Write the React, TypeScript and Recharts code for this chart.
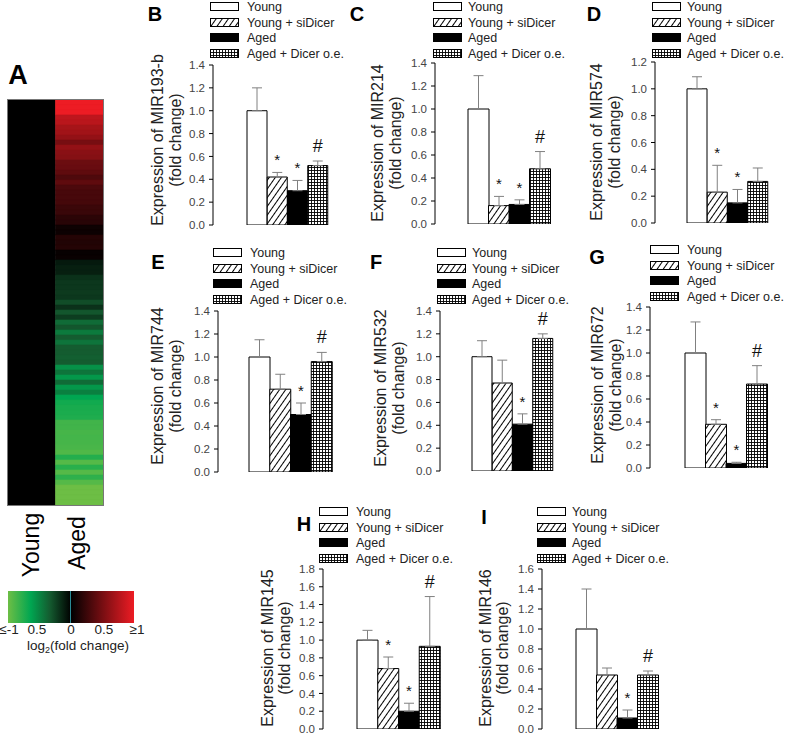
import React from 'react';
import { BarChart, Bar, XAxis, YAxis, ErrorBar, Cell, LabelList } from 'recharts';

const SANS = '"Liberation Sans", Arial, Helvetica, sans-serif';

const groups = ['Young', 'Young + siDicer', 'Aged', 'Aged + Dicer o.e.'];
const groupFills = ['#ffffff', 'url(#hatch)', '#000000', 'url(#grid)'];

// panel A: log2 fold change, aged vs young, top to bottom
const agedLog2FC = [
  1, 1, 1, 0.8, 0.78, 0.7, 0.68, 0.62, 0.5, 0.62, 0.58, 0.56, 0.45, 0.44,
  0.4, 0.33, 0.4, 0.32, 0.3, 0.3, 0.29, 0.25, 0.24, 0.18, 0.17, 0.06, 0.05,
  0.15, 0.14, 0.15, 0.03, 0.04, -0.08, -0.1, -0.1, -0.16, -0.18, -0.18, -0.19,
  -0.18, -0.25, -0.16, -0.28, -0.2, -0.35, -0.28, -0.4, -0.3, -0.38, -0.3,
  -0.3, -0.31, -0.3, -0.48, -0.38, -0.5, -0.35, -0.5, -0.42, -0.55, -0.62,
  -0.65, -0.66, -0.68, -0.82, -0.82, -0.84, -0.83, -0.84, -0.85, -0.88, -0.7,
  -0.9, -0.72, -0.9, -0.74, -0.9, -1, -1, -1, -1,
];
const colorbarTicks = ['\u2264-1', '0.5', '0', '0.5', '\u22651'];

// B - MIR193-b
const mir193bMean = [1.0, 0.42, 0.3, 0.52];
const mir193bErr = [0.2, 0.04, 0.09, 0.04];
const mir193bSig = ['', '*', '*', '#'];
// C - MIR214
const mir214Mean = [1.0, 0.16, 0.17, 0.48];
const mir214Err = [0.29, 0.08, 0.04, 0.15];
const mir214Sig = ['', '*', '*', '#'];
// D - MIR574
const mir574Mean = [1.0, 0.23, 0.15, 0.31];
const mir574Err = [0.09, 0.2, 0.1, 0.1];
const mir574Sig = ['', '*', '*', ''];
// E - MIR744
const mir744Mean = [1.0, 0.72, 0.5, 0.96];
const mir744Err = [0.15, 0.13, 0.1, 0.08];
const mir744Sig = ['', '', '*', '#'];
// F - MIR532
const mir532Mean = [1.0, 0.77, 0.41, 1.16];
const mir532Err = [0.14, 0.2, 0.09, 0.04];
const mir532Sig = ['', '', '*', '#'];
// G - MIR672
const mir672Mean = [1.0, 0.38, 0.04, 0.73];
const mir672Err = [0.27, 0.04, 0.01, 0.16];
const mir672Sig = ['', '*', '*', '#'];
// H - MIR145
const mir145Mean = [1.0, 0.68, 0.2, 0.93];
const mir145Err = [0.11, 0.13, 0.09, 0.56];
const mir145Sig = ['', '*', '*', '#'];
// I - MIR146
const mir146Mean = [1.0, 0.54, 0.11, 0.54];
const mir146Err = [0.4, 0.07, 0.08, 0.04];
const mir146Sig = ['', '', '*', '#'];

const ticks14 = [0, 0.2, 0.4, 0.6, 0.8, 1.0, 1.2, 1.4];
const ticks12 = [0, 0.2, 0.4, 0.6, 0.8, 1.0, 1.2];
const ticks16 = [0, 0.2, 0.4, 0.6, 0.8, 1.0, 1.2, 1.4, 1.6];
const ticks18 = [0, 0.2, 0.4, 0.6, 0.8, 1.0, 1.2, 1.4, 1.6, 1.8];

const panels = [
  { letter: 'B', title: 'Expression of MIR193-b', mean: mir193bMean, err: mir193bErr, sig: mir193bSig, ticks: ticks14,
    axisX: 213, axisEnd: 347, y0: 225, yTop: 65, padL: 34, padR: 19, legX: 210, legTextX: 247, legY: 7,
    lx: 155, ly: 14, ylab1: 158, ylab2: 176, ycy: 140 },
  { letter: 'C', title: 'Expression of MIR214', mean: mir214Mean, err: mir214Err, sig: mir214Sig, ticks: ticks14,
    axisX: 435, axisEnd: 580, y0: 224, yTop: 63, padL: 33, padR: 30, legX: 433, legTextX: 468, legY: 7,
    lx: 357, ly: 14, ylab1: 378, ylab2: 396, ycy: 143 },
  { letter: 'D', title: 'Expression of MIR574', mean: mir574Mean, err: mir574Err, sig: mir574Sig, ticks: ticks12,
    axisX: 655, axisEnd: 798, y0: 223, yTop: 62, padL: 32, padR: 30, legX: 652, legTextX: 687, legY: 7,
    lx: 594, ly: 14, ylab1: 597, ylab2: 615, ycy: 142 },
  { letter: 'E', title: 'Expression of MIR744', mean: mir744Mean, err: mir744Err, sig: mir744Sig, ticks: ticks14,
    axisX: 218, axisEnd: 352, y0: 472, yTop: 311, padL: 31, padR: 20, legX: 213, legTextX: 250, legY: 253,
    lx: 158, ly: 262, ylab1: 158, ylab2: 176, ycy: 386 },
  { letter: 'F', title: 'Expression of MIR532', mean: mir532Mean, err: mir532Err, sig: mir532Sig, ticks: ticks14,
    axisX: 440, axisEnd: 580, y0: 471, yTop: 311, padL: 32, padR: 27, legX: 437, legTextX: 472, legY: 253,
    lx: 376, ly: 262, ylab1: 381, ylab2: 399, ycy: 388 },
  { letter: 'G', title: 'Expression of MIR672', mean: mir672Mean, err: mir672Err, sig: mir672Sig, ticks: ticks14,
    axisX: 650, axisEnd: 798, y0: 468, yTop: 307, padL: 35, padR: 31, legX: 650, legTextX: 687, legY: 250,
    lx: 597, ly: 257, ylab1: 598, ylab2: 616, ycy: 385 },
  { letter: 'H', title: 'Expression of MIR145', mean: mir145Mean, err: mir145Err, sig: mir145Sig, ticks: ticks18,
    axisX: 323, axisEnd: 468, y0: 729, yTop: 569, padL: 34, padR: 28, legX: 319, legTextX: 356, legY: 512,
    lx: 304, ly: 524, ylab1: 268, ylab2: 285, ycy: 648 },
  { letter: 'I', title: 'Expression of MIR146', mean: mir146Mean, err: mir146Err, sig: mir146Sig, ticks: ticks16,
    axisX: 542, axisEnd: 689, y0: 729, yTop: 569, padL: 34, padR: 31, legX: 537, legTextX: 572, legY: 512,
    lx: 484, ly: 517, ylab1: 486, ylab2: 503, ycy: 648 },
];

function mix(a: number[], b: number[], t: number) {
  const c = a.map((v, i) => Math.round(v + (b[i] - v) * t));
  return `rgb(${c[0]},${c[1]},${c[2]})`;
}

function heatColor(v: number) {
  if (v >= 0) return mix([0, 0, 0], [237, 28, 36], Math.min(v, 1));
  const a = -v;
  if (a < 0.3) return mix([0, 0, 0], [20, 92, 48], a / 0.3);
  if (a < 0.55) return mix([20, 92, 48], [0, 166, 81], (a - 0.3) / 0.25);
  return mix([0, 166, 81], [109, 190, 69], Math.min((a - 0.55) / 0.45, 1));
}

const Centered = ({ x, y, rotate, style, children }: any) => (
  <div
    style={{
      position: 'absolute', left: x, top: y, whiteSpace: 'nowrap', lineHeight: 1,
      transform: `translate(-50%, -50%)${rotate ? ' rotate(-90deg)' : ''}`, ...style,
    }}
  >
    {children}
  </div>
);

const Swatch = ({ fill }: { fill: string }) => (
  <svg width={30} height={10} style={{ display: 'block' }}>
    <rect x={0.5} y={0.5} width={28} height={8} fill={fill} stroke="#000" strokeWidth={1} />
  </svg>
);

const sigLabel = (mean: number[], err: number[]) => (props: any) => {
  const vb = props.viewBox && props.viewBox.width !== undefined ? props.viewBox : props;
  const { x, y, width, height } = vb;
  const { value, index } = props;
  if (!value) return null;
  const ppu = height / mean[index];
  const top = y - err[index] * ppu;
  const hash = value === '#';
  return (
    <text x={x + width / 2} y={hash ? top - 9 : top - 7} textAnchor="middle"
      fontSize={hash ? 18 : 15} fontFamily={SANS} fill="#111">
      {value}
    </text>
  );
};

function BarPanel({ p }: { p: any }) {
  const data = groups.map((g, i) => ({ group: g, mean: p.mean[i], err: [0, p.err[i]], sig: p.sig[i] }));
  const yw = 40;
  const mt = 30;
  const mb = 10;
  const left = p.axisX - yw;
  const plotH = p.y0 - p.yTop;
  const max = p.ticks[p.ticks.length - 1];
  return (
    <>
      <div style={{ position: 'absolute', left, top: p.yTop - mt }}>
        <BarChart width={p.axisEnd - left} height={mt + plotH + mb} data={data}
          margin={{ top: mt, right: 0, bottom: mb, left: 0 }} barCategoryGap={0} barGap={0}>
          <XAxis dataKey="group" tick={false} tickLine={false} height={0}
            axisLine={{ stroke: '#000' }} padding={{ left: p.padL, right: p.padR }} />
          <YAxis width={yw} domain={[0, max]} ticks={p.ticks} interval={0} allowDataOverflow
            tickFormatter={(v: number) => v.toFixed(1)} axisLine={{ stroke: '#000' }}
            tickLine={{ stroke: '#000' }} tickSize={4} tickMargin={4}
            tick={{ fontSize: 11.5, fill: '#444', fontFamily: SANS }} />
          <Bar dataKey="mean" isAnimationActive={false} stroke="#000" strokeWidth={1}>
            {data.map((d, i) => <Cell key={i} fill={groupFills[i]} />)}
            <ErrorBar dataKey="err" width={5} stroke="#808080" strokeWidth={1} direction="y" />
            <LabelList dataKey="sig" content={sigLabel(p.mean, p.err)} />
          </Bar>
        </BarChart>
      </div>
      {groups.map((g, i) => (
        <React.Fragment key={g}>
          <div style={{ position: 'absolute', left: p.legX, top: p.legY + i * 15.5 - 5 }}>
            <Swatch fill={groupFills[i]} />
          </div>
          <div style={{ position: 'absolute', left: p.legTextX, top: p.legY + i * 15.5 - 7,
            fontSize: 12.5, lineHeight: '14px', color: '#222', fontFamily: SANS, whiteSpace: 'nowrap' }}>
            {g}
          </div>
        </React.Fragment>
      ))}
      <Centered x={p.ylab1} y={p.ycy} rotate style={{ fontSize: 16, fontFamily: SANS, color: '#222' }}>
        {p.title}
      </Centered>
      <Centered x={p.ylab2} y={p.ycy} rotate style={{ fontSize: 16, fontFamily: SANS, color: '#222' }}>
        (fold change)
      </Centered>
      <Centered x={p.lx} y={p.ly} style={{ fontSize: 20, fontWeight: 'bold', fontFamily: SANS }}>
        {p.letter}
      </Centered>
    </>
  );
}

function Heatmap() {
  const rows = agedLog2FC.map((v, i) => ({ row: i, young: 1, aged: 1, fc: v }));
  return (
    <div style={{ position: 'absolute', left: 8, top: 100, outline: '1px solid #777' }}>
      <BarChart layout="vertical" width={95} height={405} data={rows}
        margin={{ top: 0, right: 0, bottom: 0, left: 0 }} barCategoryGap={0} barGap={0}>
        <XAxis type="number" hide domain={[0, 2]} />
        <YAxis type="category" dataKey="row" hide />
        <Bar dataKey="young" stackId="a" fill="#000" stroke="#000" strokeWidth={0.6} isAnimationActive={false} />
        <Bar dataKey="aged" stackId="a" isAnimationActive={false}>
          {rows.map((r, i) => (
            <Cell key={i} fill={heatColor(r.fc)} stroke={heatColor(r.fc)} strokeWidth={0.6} />
          ))}
        </Bar>
      </BarChart>
    </div>
  );
}

export default function App() {
  const tickX = [9, 37, 71, 104, 137];
  return (
    <div style={{ position: 'absolute', left: 0, top: 0, width: 800, height: 734, background: '#fff',
      fontFamily: SANS, overflow: 'hidden' }}>
      <svg width={0} height={0} style={{ position: 'absolute' }}>
        <defs>
          <pattern id="hatch" patternUnits="userSpaceOnUse" width={5} height={5} patternTransform="rotate(35)">
            <rect width={5} height={5} fill="#fff" />
            <line x1={0.5} y1={0} x2={0.5} y2={5} stroke="#000" strokeWidth={1} />
          </pattern>
          <pattern id="grid" patternUnits="userSpaceOnUse" width={3} height={3}>
            <rect width={3} height={3} fill="#fff" />
            <path d="M0 0.5H3M0.5 0V3" stroke="#000" strokeWidth={0.9} />
          </pattern>
        </defs>
      </svg>

      <Centered x={18} y={75} style={{ fontSize: 27, fontWeight: 'bold' }}>A</Centered>
      <Heatmap />
      <Centered x={31} y={545} rotate style={{ fontSize: 23 }}>Young</Centered>
      <Centered x={77} y={543} rotate style={{ fontSize: 23 }}>Aged</Centered>
      <div style={{ position: 'absolute', left: 8, top: 591, width: 126, height: 32,
        background: 'linear-gradient(to right, #6dbe45 0%, #00a651 18%, #145c30 33%, #000 50%, #770e12 75%, #ed1c24 100%)' }}>
        <div style={{ position: 'absolute', left: 62, top: 0, width: 1, height: 32, background: '#2a8a96' }} />
      </div>
      {colorbarTicks.map((t, i) => (
        <Centered key={i} x={tickX[i]} y={630} style={{ fontSize: 13.5, color: '#222' }}>{t}</Centered>
      ))}
      <Centered x={78} y={647} style={{ fontSize: 13.5, color: '#222' }}>
        log<sub style={{ fontSize: 9, verticalAlign: '-3px' }}>2</sub>(fold change)
      </Centered>

      {panels.map((p) => <BarPanel key={p.letter} p={p} />)}
    </div>
  );
}
